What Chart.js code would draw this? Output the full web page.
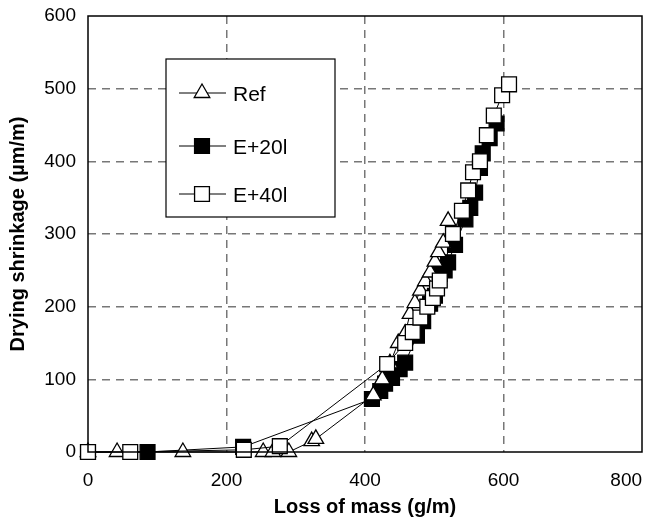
<!DOCTYPE html>
<html lang="en">
<head>
  <meta charset="UTF-8">
  <title>Drying shrinkage vs loss of mass</title>
  <script src="https://cdn.jsdelivr.net/npm/chart.js"></script>
  <style>
    body { margin: 0; padding: 0; background: #fff; }
    #wrap { width: 654px; height: 519px; }
  </style>
</head>
<body>
  <div id="wrap"><canvas id="chart" width="654" height="519"></canvas></div>
  <script>
    // data
    const xTicks = [0, 200, 400, 600, 800];
    const yTicks = [0, 100, 200, 300, 400, 500, 600];

    const refX = [0, 42, 137, 253, 267, 290, 323, 329, 412, 425, 436, 448, 458, 465, 472, 480, 487, 494, 501, 506, 513, 520];
    const refY = [0, 0, 0, 0, 0, 0, 15, 18, 78, 100, 122, 150, 163, 190, 205, 222, 235, 247, 262, 275, 288, 318];

    const e20X = [0, 86, 224, 410, 422, 429, 439, 450, 458, 475, 484, 494, 501, 508, 515, 520, 530, 545, 552, 559, 566, 570, 580, 590];
    const e20Y = [0, 0, 7, 73, 84, 94, 102, 114, 123, 160, 180, 204, 215, 245, 250, 261, 285, 320, 336, 357, 391, 411, 432, 452];

    const e40X = [0, 61, 225, 277, 432, 458, 469, 480, 490, 498, 504, 508, 527, 540, 549, 556, 566, 576, 586, 598, 608];
    const e40Y = [0, 0, 3, 8, 121, 150, 165, 185, 200, 212, 225, 236, 300, 332, 360, 385, 400, 436, 463, 491, 506];

    const labels = ['Ref', 'E+20l', 'E+40l'];

    const pts = (xs, ys) => xs.map((x, i) => ({ x: x, y: ys[i] }));
    const FONT = '"Liberation Sans", Arial, sans-serif';

    // frame round the plot area
    const frame = {
      id: 'frame',
      afterDatasetsDraw(chart) {
        const a = chart.chartArea, ctx = chart.ctx;
        ctx.save();
        ctx.strokeStyle = '#000';
        ctx.lineWidth = 1.5;
        ctx.strokeRect(a.left, a.top, a.right - a.left, a.bottom - a.top);
        ctx.restore();
      }
    };

    // boxed legend inside the plot, like the original
    const boxLegend = {
      id: 'boxLegend',
      afterDraw(chart) {
        const ctx = chart.ctx;
        const bx = 166, by = 59, bw = 169, bh = 158;
        ctx.save();
        ctx.fillStyle = '#fff';
        ctx.fillRect(bx, by, bw, bh);
        ctx.strokeStyle = '#000';
        ctx.lineWidth = 1.2;
        ctx.strokeRect(bx, by, bw, bh);
        const rows = [93, 146, 194];
        chart.data.datasets.forEach((ds) => {
          const y = rows[labels.indexOf(ds.label)];
          ctx.strokeStyle = '#000';
          ctx.lineWidth = 1;
          ctx.beginPath();
          ctx.moveTo(179, y);
          ctx.lineTo(226, y);
          ctx.stroke();
          ctx.fillStyle = ds.pointBackgroundColor;
          ctx.lineWidth = ds.pointBorderWidth;
          Chart.helpers.drawPoint(ctx, {
            pointStyle: ds.pointStyle,
            radius: ds.pointRadius,
            borderWidth: ds.pointBorderWidth
          }, 202, y);
          ctx.fillStyle = '#000';
          ctx.font = '21px ' + FONT;
          ctx.textBaseline = 'middle';
          ctx.textAlign = 'left';
          ctx.fillText(ds.label, 233, y + 2);
        });
        ctx.restore();
      }
    };

    const common = {
      showLine: true,
      borderColor: '#000',
      borderWidth: 1,
      pointBorderColor: '#000',
      pointBorderWidth: 1.3,
      clip: false
    };

    const gridColor = (edgeA, edgeB) => (c) =>
      (c.tick && (c.tick.value === edgeA || c.tick.value === edgeB)) ? 'rgba(0,0,0,0)' : '#777';

    new Chart(document.getElementById('chart'), {
      type: 'scatter',
      data: {
        datasets: [
          Object.assign({ label: 'E+40l', data: pts(e40X, e40Y), pointStyle: 'rect', pointRadius: 10.5, pointBackgroundColor: '#fff' }, common),
          Object.assign({ label: 'Ref', data: pts(refX, refY), pointStyle: 'triangle', pointRadius: 9, pointBackgroundColor: '#fff' }, common),
          Object.assign({ label: 'E+20l', data: pts(e20X, e20Y), pointStyle: 'rect', pointRadius: 10.5, pointBackgroundColor: '#000' }, common)
        ]
      },
      options: {
        responsive: false,
        animation: false,
        layout: { padding: { top: 16, right: 12, left: 0, bottom: 0 } },
        plugins: {
          legend: { display: false },
          tooltip: { enabled: false }
        },
        scales: {
          x: {
            type: 'linear',
            min: 0, max: 800,
            afterBuildTicks: (s) => { s.ticks = xTicks.map(v => ({ value: v })); },
            afterFit: (s) => { s.height = 67; s.paddingLeft = 0; s.paddingRight = 0; },
            ticks: {
              color: '#000',
              font: { size: 19, family: FONT },
              padding: 17,
              // last label sits at the canvas edge, nudge it left with trailing spaces
              callback: (v) => v === 800 ? v + '\u00a0\u00a0\u00a0\u00a0\u00a0\u00a0' : '' + v
            },
            grid: { drawTicks: false, color: gridColor(0, 800), lineWidth: 1.5 },
            border: { display: false, dash: [8, 6] },
            title: {
              display: true,
              text: 'Loss of mass (g/m)',
              color: '#000',
              font: { size: 20, weight: 'bold', family: FONT },
              padding: { top: 0, bottom: 0 }
            }
          },
          y: {
            type: 'linear',
            min: 0, max: 600,
            afterBuildTicks: (s) => { s.ticks = yTicks.map(v => ({ value: v })); },
            afterFit: (s) => { s.width = 88; s.paddingTop = 0; s.paddingBottom = 0; },
            ticks: { color: '#000', font: { size: 19, family: FONT }, padding: 12 },
            grid: { drawTicks: false, color: gridColor(0, 600), lineWidth: 1.5 },
            border: { display: false, dash: [8, 6] },
            title: {
              display: true,
              text: 'Drying shrinkage (µm/m)',
              color: '#000',
              font: { size: 20, weight: 'bold', family: FONT },
              padding: { top: 6, bottom: 0 }
            }
          }
        }
      },
      plugins: [frame, boxLegend]
    });
  </script>
</body>
</html>
